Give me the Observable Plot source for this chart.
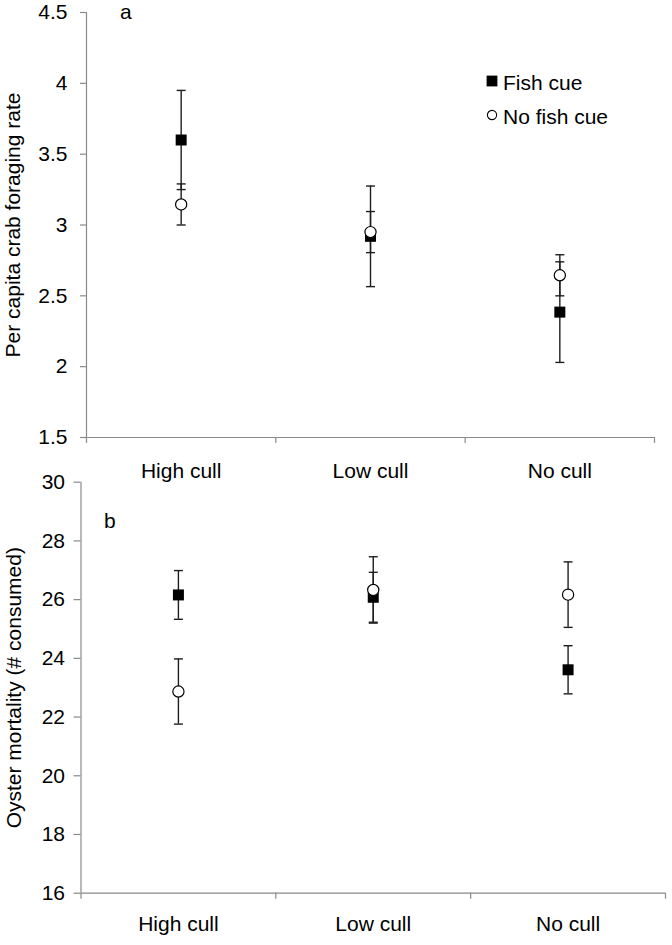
<!DOCTYPE html>
<html>
<head>
<meta charset="utf-8">
<script src="https://cdn.jsdelivr.net/npm/d3@7"></script>
<script src="https://cdn.jsdelivr.net/npm/@observablehq/plot@0.6"></script>
<style>
  body { margin: 0; background: #fff; }
  #wrap { position: relative; width: 672px; height: 945px; font-family: "Liberation Sans", Arial, sans-serif; color: #000; }
  #wrap svg { position: absolute; left: 0; overflow: visible; background: transparent; }
  .lbl { position: absolute; font-size: 21px; line-height: 21px; white-space: nowrap; }
</style>
</head>
<body>
<div id="wrap"></div>
<script>
// ---- data ----
const categories = ["High cull", "Low cull", "No cull"];
const seriesNames = ["Fish cue", "No fish cue"];

// panel a: per capita crab foraging rate (mean ± SE)
const foragingFishMean = [3.60, 2.92, 2.385];
const foragingFishSE = [0.35, 0.355, 0.355];
const foragingNoFishMean = [3.145, 2.95, 2.645];
const foragingNoFishSE = [0.145, 0.145, 0.145];
const foragingTicks = [1.5, 2, 2.5, 3, 3.5, 4, 4.5];

// panel b: oyster mortality (# consumed) (mean ± SE)
const mortalityFishMean = [26.16, 26.08, 23.61];
const mortalityFishSE = [0.83, 0.85, 0.82];
const mortalityNoFishMean = [22.87, 26.33, 26.17];
const mortalityNoFishSE = [1.11, 1.13, 1.115];
const mortalityTicks = [16, 18, 20, 22, 24, 26, 28, 30];

const boundaries = [0, 1, 2, 3];
const centers = categories.map((c, i) => i + 0.5);

// ---- helpers ----
const capSymbol = {
  draw(context, size) {
    const w = Math.sqrt(size / Math.PI);
    context.moveTo(-w, 0);
    context.lineTo(w, 0);
  }
};

function rowsFor(fishMean, fishSE, noMean, noSE) {
  return categories.flatMap((c, i) => [
    {i, cat: c, series: seriesNames[0], mean: fishMean[i], se: fishSE[i]},
    {i, cat: c, series: seriesNames[1], mean: noMean[i], se: noSE[i]}
  ]);
}

const AXIS = "#8a8a8a";
const BAR = "#1e1e1e";

function panel({rows, ticks, yDomain, title, top, height, marginTop, marginBottom, marginLeft, marginRight, yTickSize, yTickPadding, xLabelPadding, titleDx}) {
  const xPos = d => d.i + 0.5;
  const fish = rows.filter(d => d.series === seriesNames[0]);
  const noFish = rows.filter(d => d.series === seriesNames[1]);
  const svg = Plot.plot({
    width: 672,
    height,
    marginTop, marginBottom, marginLeft, marginRight,
    style: {fontSize: "21px", fontFamily: "'Liberation Sans', Arial, sans-serif", background: "transparent", overflow: "visible", color: "#000"},
    x: {domain: [0, 3], axis: null},
    y: {domain: yDomain, axis: null},
    marks: [
      // axis lines
      Plot.ruleX([0], {stroke: AXIS, strokeWidth: 1.2}),
      Plot.ruleY([yDomain[0]], {stroke: AXIS, strokeWidth: 1.2}),
      // y ticks and labels
      Plot.axisY({ticks, label: null, tickSize: yTickSize, tickFormat: () => "", color: AXIS, strokeWidth: 1.2}),
      Plot.axisY({ticks, label: null, tickSize: 0, tickPadding: yTickSize + yTickPadding, tickFormat: d => String(d), color: "#000"}),
      // x ticks at category boundaries and category labels
      Plot.axisX({ticks: boundaries, label: null, tickSize: 6, tickFormat: () => "", color: AXIS, strokeWidth: 1.2}),
      Plot.axisX({ticks: centers, label: null, tickSize: 0, tickPadding: xLabelPadding, tickFormat: d => categories[Math.round(d - 0.5)], color: "#000"}),
      // y axis title
      Plot.text([title], {text: d => d, frameAnchor: "left", rotate: -90, dx: titleDx, fill: "#000", textAnchor: "middle", lineAnchor: "middle"}),
      // error bars
      Plot.ruleX(rows, {x: xPos, y1: d => d.mean - d.se, y2: d => d.mean + d.se, stroke: BAR, strokeWidth: 1.4}),
      Plot.dot(rows, {x: xPos, y: d => d.mean - d.se, symbol: capSymbol, r: 4.5, fill: "none", stroke: BAR, strokeWidth: 1.4}),
      Plot.dot(rows, {x: xPos, y: d => d.mean + d.se, symbol: capSymbol, r: 4.5, fill: "none", stroke: BAR, strokeWidth: 1.4}),
      // points
      Plot.dot(fish, {x: xPos, y: "mean", symbol: "square", r: 6.2, fill: "#000", stroke: "none"}),
      Plot.dot(noFish, {x: xPos, y: "mean", symbol: "circle", r: 5.6, fill: "#fff", stroke: "#000", strokeWidth: 1.2})
    ]
  });
  svg.style.top = top + "px";
  return svg;
}

const wrap = document.getElementById("wrap");

wrap.appendChild(panel({
  rows: rowsFor(foragingFishMean, foragingFishSE, foragingNoFishMean, foragingNoFishSE),
  ticks: foragingTicks,
  yDomain: [1.5, 4.5],
  title: "Per capita crab foraging rate",
  top: 0, height: 485,
  marginTop: 12, marginBottom: 48, marginLeft: 86, marginRight: 18,
  yTickSize: 6, yTickPadding: 13, xLabelPadding: 25.5, titleDx: -73
}));

wrap.appendChild(panel({
  rows: rowsFor(mortalityFishMean, mortalityFishSE, mortalityNoFishMean, mortalityNoFishSE),
  ticks: mortalityTicks,
  yDomain: [16, 30],
  title: "Oyster mortality (# consumed)",
  top: 455, height: 490,
  marginTop: 26.7, marginBottom: 52.3, marginLeft: 80.5, marginRight: 7,
  yTickSize: 7, yTickPadding: 9, xLabelPadding: 22.8, titleDx: -67
}));

// panel letters
function addLabel(text, left, top) {
  const d = document.createElement("div");
  d.className = "lbl";
  d.textContent = text;
  d.style.left = left + "px";
  d.style.top = top + "px";
  wrap.appendChild(d);
  return d;
}
addLabel("a", 120, 0.5);
addLabel("b", 104, 509.8);

// legend (inside panel a)
const legendSwatches = [
  {name: seriesNames[0], kind: "square", cy: 81, ty: 72.4},
  {name: seriesNames[1], kind: "circle", cy: 114.5, ty: 105.8}
];
legendSwatches.forEach(s => {
  const sw = document.createElementNS("http://www.w3.org/2000/svg", "svg");
  sw.setAttribute("width", 14);
  sw.setAttribute("height", 14);
  sw.style.position = "absolute";
  sw.style.left = (492 - 7) + "px";
  sw.style.top = (s.cy - 7) + "px";
  sw.style.overflow = "visible";
  sw.innerHTML = s.kind === "square"
    ? '<rect x="1.6" y="1.6" width="10.8" height="10.8" fill="#000"/>'
    : '<circle cx="7" cy="7" r="4.6" fill="#fff" stroke="#000" stroke-width="1.1"/>';
  wrap.appendChild(sw);
  addLabel(s.name, 503, s.ty);
});
</script>
</body>
</html>
